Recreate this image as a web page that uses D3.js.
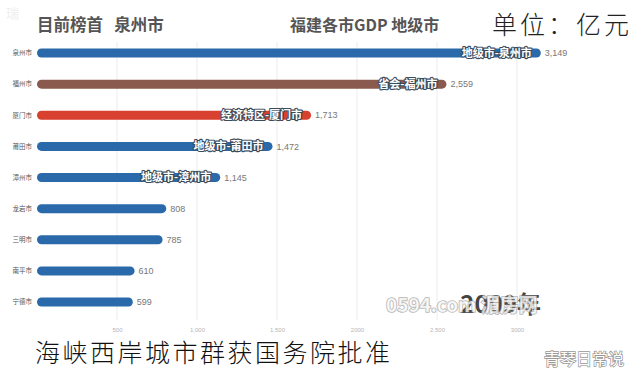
<!DOCTYPE html>
<html><head><meta charset="utf-8">
<script src="https://cdn.jsdelivr.net/npm/d3@7"></script>
<style>
body{margin:0;background:#fff;}
svg{display:block;font-family:"Noto Sans CJK SC","Noto Sans",sans-serif;}
text{white-space:pre;}
</style></head>
<body>
<svg id="c" width="641" height="381"></svg>
<script>
const cities = ["泉州市","福州市","厦门市","莆田市","漳州市","龙岩市","三明市","南平市","宁德市"];
const gdp = [3149, 2559, 1713, 1472, 1145, 808, 785, 610, 599];
const tags = ["地级市-泉州市","省会-福州市","经济特区-厦门市","地级市-莆田市","地级市-漳州市","","","",""];
const barColors = ["#2a6aaa","#8a5a4e","#d8412f","#2a6aaa","#2a6aaa","#2a6aaa","#2a6aaa","#2a6aaa","#2a6aaa"];
const tickValues = [500, 1000, 1500, 2000, 2500, 3000];
const tickLabels = ["500", "1,000", "1,500", "2000", "2,500", "3000"];

const svg = d3.select("#c");
const x = d3.scaleLinear().domain([0, 3000]).range([37, 517]);
const y = d3.scalePoint().domain(cities).range([53, 302]);
const bh = 9;

// gridlines
svg.append("g").selectAll("line").data(tickValues).join("line")
  .attr("x1", d => x(d)).attr("x2", d => x(d))
  .attr("y1", 42).attr("y2", 320)
  .attr("stroke", "#ececec").attr("stroke-width", 1);

// bottom axis labels
const ax = svg.append("g").attr("transform", "translate(0,329)")
  .call(d3.axisBottom(x).tickValues(tickValues).tickFormat((d,i) => tickLabels[i]).tickSize(0));
ax.select(".domain").remove();
ax.selectAll("text").attr("fill", "#b5b5b5").style("font-size", "6px").attr("dy", "0");

// bars
svg.append("g").selectAll("rect").data(cities).join("rect")
  .attr("x", x(0)).attr("y", d => y(d) - bh/2)
  .attr("width", (d,i) => x(gdp[i]) - x(0)).attr("height", bh)
  .attr("rx", bh/2).attr("fill", (d,i) => barColors[i]);

// city labels
svg.append("g").selectAll("text").data(cities).join("text")
  .attr("x", 32).attr("y", d => y(d)).attr("dy", "0.35em")
  .attr("text-anchor", "end").attr("fill", "#555").style("font-size", "6.5px")
  .text(d => d);

// values
svg.append("g").selectAll("text").data(cities).join("text")
  .attr("x", (d,i) => x(gdp[i]) + 4).attr("y", d => y(d)).attr("dy", "0.35em")
  .attr("fill", "#777").style("font-size", "9px").attr("font-family", "Liberation Sans, sans-serif")
  .text((d,i) => d3.format(",")(gdp[i]));

// inner tags
svg.append("g").selectAll("text").data(cities.filter((d,i) => tags[i])).join("text")
  .attr("x", (d) => x(gdp[cities.indexOf(d)]) - 9).attr("y", d => y(d)).attr("dy", "0.36em")
  .attr("text-anchor", "end").style("font-size", "11px").style("font-weight", "bold")
  .attr("fill", "#fff").attr("stroke", "#3a4b5c").attr("stroke-width", 2.2).attr("paint-order", "stroke")
  .attr("stroke-linejoin", "round")
  .text(d => tags[cities.indexOf(d)]);

// titles
svg.append("text").attr("x", 37).attr("y", 31).attr("fill", "#555").style("font-size", "16.5px").style("font-weight", "bold").text("目前榜首   泉州市");
svg.append("text").attr("x", 290).attr("y", 31).attr("fill", "#555").style("font-size", "16px").style("font-weight", "bold").text("福建各市GDP 地级市");
svg.append("text").attr("x", 492).attr("y", 34).attr("fill", "#222").style("font-size", "25px").style("font-weight", "300").style("letter-spacing", "3px").text("单位：亿元");

// watermark-ish texts
svg.append("text").attr("x", 6).attr("y", 18).attr("fill", "#eee").style("font-size", "13px").text("瑞");
svg.append("text").attr("x", 541).attr("y", 313).attr("text-anchor", "end").attr("fill", "#444").style("font-size", "24px").style("font-weight", "bold").text("2009年");
svg.append("text").attr("x", 386).attr("y", 312).attr("fill", "#fff").attr("fill-opacity", 0.75)
  .attr("stroke", "#888").attr("stroke-opacity", 0.6).attr("stroke-width", 1.6).attr("paint-order", "stroke")
  .style("font-size", "19px").style("font-weight", "bold").text("0594.com 湄房网");
svg.append("text").attr("x", 35).attr("y", 362).attr("fill", "#111").style("font-size", "25px").style("font-weight", "300").style("letter-spacing", "2.5px").text("海峡西岸城市群获国务院批准");
svg.append("text").attr("x", 544).attr("y", 365).attr("fill", "#fff").attr("stroke", "#999").attr("stroke-width", 1.5).attr("paint-order", "stroke")
  .style("font-size", "16px").text("青琴日常说");
</script>
</body></html>
